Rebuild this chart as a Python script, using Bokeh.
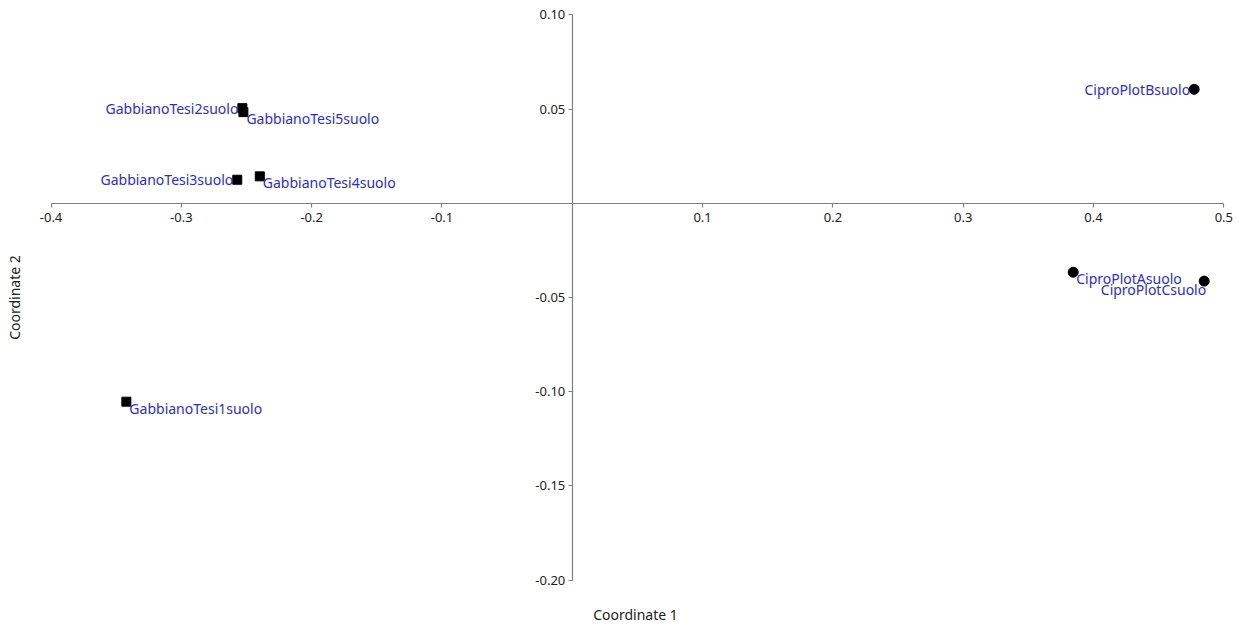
from bokeh.plotting import figure
from bokeh.models import ColumnDataSource, Range1d, FixedTicker, PrintfTickFormatter, LinearAxis
from bokeh.core.properties import value
from bokeh.embed import file_html
from bokeh.resources import INLINE

# ---- data ----
cipro_names = ["CiproPlotAsuolo", "CiproPlotBsuolo", "CiproPlotCsuolo"]
cipro_x = [0.3844, 0.4772, 0.4849]
cipro_y = [-0.0366, 0.0605, -0.0413]

gabbiano_names = ["GabbianoTesi1suolo", "GabbianoTesi2suolo", "GabbianoTesi3suolo",
                  "GabbianoTesi4suolo", "GabbianoTesi5suolo"]
gabbiano_x = [-0.3422, -0.2532, -0.2571, -0.2398, -0.2524]
gabbiano_y = [-0.1053, 0.0505, 0.0125, 0.0143, 0.0484]

x_ticks = [-0.4, -0.3, -0.2, -0.1, 0.1, 0.2, 0.3, 0.4, 0.5]
y_ticks = [-0.20, -0.15, -0.10, -0.05, 0.05, 0.10]
x_axis_bounds = (-0.4, 0.5)
y_axis_bounds = (-0.2, 0.1)

x_label = "Coordinate 1"
y_label = "Coordinate 2"

# label anchor per point (style): "L" = text left of point, "RB" = right-below, "LB" = left-below
cipro_anchor = ["RB", "L", "LB"]
gabbiano_anchor = ["RB", "L", "L", "RB", "RB"]

FONT = "Noto Sans"
LABEL_COLOR = "#2d2dc8"
AXIS_COLOR = "#808080"
TEXT_COLOR = "#222222"

anchor_style = {
    "L": ("right", "middle", -4, 0),
    "RB": ("left", "top", 3, -3),
    "LB": ("right", "top", 2, -1),
}


def label_source(names, xs, ys, anchors):
    st = [anchor_style[a] for a in anchors]
    return ColumnDataSource(dict(
        x=xs, y=ys, name=names,
        align=[s[0] for s in st], baseline=[s[1] for s in st],
        xo=[s[2] for s in st], yo=[s[3] for s in st],
    ))


# the ranges are a touch wider than the axes so that the end tick labels are not clipped
p = figure(frame_width=1208, frame_height=584,
           x_range=Range1d(-0.415, 0.512), y_range=Range1d(-0.205, 0.105),
           output_backend="svg", toolbar_location=None,
           min_border_left=31, min_border_top=5, min_border_right=1, min_border_bottom=37)
p.outline_line_color = None
p.xgrid.visible = False
p.ygrid.visible = False
p.background_fill_color = "white"
p.border_fill_color = "white"

# axes crossing at origin
for ax, ticks, fmt, bounds, standoff in ((p.xaxis[0], x_ticks, "%.1f", x_axis_bounds, 6),
                                         (p.yaxis[0], y_ticks, "%.2f", y_axis_bounds, 3)):
    ax.fixed_location = 0
    ax.bounds = bounds
    ax.ticker = FixedTicker(ticks=ticks, minor_ticks=[])
    ax.formatter = PrintfTickFormatter(format=fmt)
    ax.axis_line_color = AXIS_COLOR
    ax.axis_line_width = 1.2
    ax.major_tick_line_color = AXIS_COLOR
    ax.major_tick_line_width = 1.2
    ax.major_tick_in = 0
    ax.major_tick_out = 4
    ax.minor_tick_in = 0
    ax.minor_tick_out = 0
    ax.major_label_text_font = FONT
    ax.major_label_text_font_size = "13px"
    ax.major_label_text_color = TEXT_COLOR
    ax.major_label_standoff = standoff

# axis titles placed at the outer edges
for side, text, standoff in (("below", x_label, 15), ("left", y_label, 8)):
    a = LinearAxis(ticker=FixedTicker(ticks=[]), axis_label=text,
                   axis_line_color=None, major_tick_line_color=None,
                   minor_tick_line_color=None, major_tick_out=0, major_tick_in=0,
                   minor_tick_out=0, minor_tick_in=0,
                   major_label_text_font_size="0px",
                   axis_label_standoff=standoff,
                   axis_label_text_font=FONT, axis_label_text_font_size="14px",
                   axis_label_text_font_style="normal",
                   axis_label_text_color=TEXT_COLOR)
    p.add_layout(a, side)

# points
p.scatter(x=cipro_x, y=cipro_y, marker="circle", size=10, color="black")
p.scatter(x=gabbiano_x, y=gabbiano_y, marker="square", size=9, color="black")

# labels
for src in (label_source(cipro_names, cipro_x, cipro_y, cipro_anchor),
            label_source(gabbiano_names, gabbiano_x, gabbiano_y, gabbiano_anchor)):
    p.text(x="x", y="y", text="name", source=src,
           text_align="align", text_baseline="baseline",
           x_offset="xo", y_offset="yo",
           text_font=value(FONT), text_font_size="14px", text_color=LABEL_COLOR)

open("out.html", "w").write(file_html(p, INLINE))
